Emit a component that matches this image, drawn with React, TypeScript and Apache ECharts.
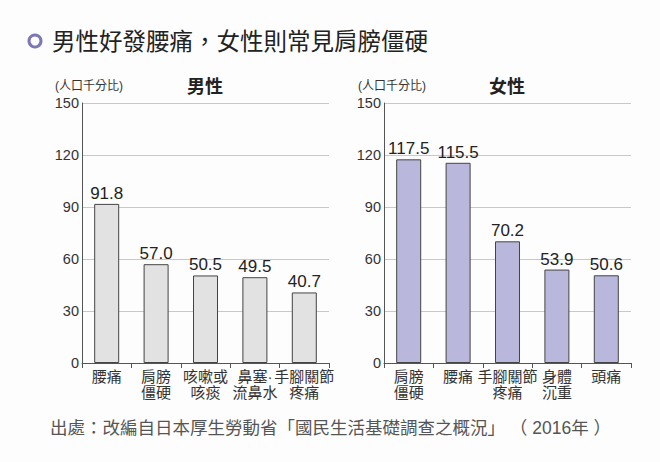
import React, { useEffect, useRef } from "react";
import * as echarts from "echarts";

const maleCategories = ["腰痛", "肩膀\n僵硬", "咳嗽或\n咳痰", "鼻塞·\n流鼻水", "手腳關節\n疼痛"];
const maleValues = [91.8, 57.0, 50.5, 49.5, 40.7];
const femaleCategories = ["肩膀\n僵硬", "腰痛", "手腳關節\n疼痛", "身體\n沉重", "頭痛"];
const femaleValues = [117.5, 115.5, 70.2, 53.9, 50.6];
const yTicks = [0, 30, 60, 90, 120, 150];

const FONT = "'Liberation Sans', 'Noto Sans CJK TC', sans-serif";

export default function App() {
  const ref = useRef<HTMLDivElement>(null);
  useEffect(() => {
    const chart = echarts.init(ref.current!, null, { renderer: "svg" });
    const xAxisCommon = {
      type: "category" as const,
      axisLine: { lineStyle: { color: "#555", width: 1 } },
      axisTick: { show: true, length: 5, lineStyle: { color: "#555" }, alignWithLabel: false },
      axisLabel: { color: "#333", fontSize: 15, fontFamily: FONT, lineHeight: 16, margin: 5, interval: 0 },
    };
    const yAxisCommon = {
      type: "value" as const,
      min: yTicks[0],
      max: yTicks[yTicks.length - 1],
      interval: 30,
      axisLine: { show: true, lineStyle: { color: "#555", width: 1 } },
      axisTick: { show: false },
      splitLine: { lineStyle: { color: "#c8c8c8", width: 1.2 } },
      axisLabel: { color: "#333", fontSize: 14.5, fontFamily: FONT, margin: 3 },
    };
    const labelCommon = {
      show: true,
      position: "top" as const,
      distance: 2,
      color: "#222",
      fontSize: 17,
      fontFamily: FONT,
      formatter: (p: any) => Number(p.value).toFixed(1),
    };
    chart.setOption({
      animation: false,
      backgroundColor: "#fdfdfd",
      grid: [
        { left: 82, right: 331, top: 103, bottom: 99 },
        { left: 384, right: 29, top: 103, bottom: 99 },
      ],
      xAxis: [
        { ...xAxisCommon, gridIndex: 0, data: maleCategories },
        { ...xAxisCommon, gridIndex: 1, data: femaleCategories },
      ],
      yAxis: [
        { ...yAxisCommon, gridIndex: 0 },
        { ...yAxisCommon, gridIndex: 1 },
      ],
      series: [
        {
          type: "bar",
          xAxisIndex: 0,
          yAxisIndex: 0,
          data: maleValues,
          barWidth: 25,
          itemStyle: { color: "#e2e2e2", borderColor: "#444", borderWidth: 1 },
          label: labelCommon,
        },
        {
          type: "bar",
          xAxisIndex: 1,
          yAxisIndex: 1,
          data: femaleValues,
          barWidth: 25,
          itemStyle: { color: "#b9b8dc", borderColor: "#444", borderWidth: 1 },
          label: labelCommon,
        },
      ],
      graphic: [
        {
          type: "circle",
          shape: { cx: 35, cy: 41, r: 6 },
          style: { fill: "none", stroke: "#7b78b5", lineWidth: 3 },
        },
        {
          type: "text",
          x: 52,
          y: 42,
          style: {
            text: "男性好發腰痛，女性則常見肩膀僵硬",
            fontSize: 23.5,
            fontFamily: FONT,
            fill: "#222",
            verticalAlign: "middle",
          },
        },
        {
          type: "text",
          x: 55,
          y: 86,
          style: { text: "(人口千分比)", fontSize: 12, fontFamily: FONT, fill: "#333", verticalAlign: "middle", align: "left" },
        },
        {
          type: "text",
          x: 205,
          y: 87,
          style: { text: "男性", fontSize: 18, fontWeight: "bold", fontFamily: FONT, fill: "#222", align: "center", verticalAlign: "middle" },
        },
        {
          type: "text",
          x: 358,
          y: 86,
          style: { text: "(人口千分比)", fontSize: 12, fontFamily: FONT, fill: "#333", verticalAlign: "middle", align: "left" },
        },
        {
          type: "text",
          x: 507,
          y: 87,
          style: { text: "女性", fontSize: 18, fontWeight: "bold", fontFamily: FONT, fill: "#222", align: "center", verticalAlign: "middle" },
        },
        {
          type: "text",
          x: 50,
          y: 428,
          style: {
            text: "出處：改編自日本厚生勞動省「國民生活基礎調查之概況」 （ 2016年 ）",
            fontSize: 17.5,
            fontFamily: FONT,
            fill: "#555",
            verticalAlign: "middle",
          },
        },
      ],
    });
    return () => chart.dispose();
  }, []);
  return <div ref={ref} style={{ position: "fixed", left: 0, top: 0, width: 660, height: 462 }} />;
}
